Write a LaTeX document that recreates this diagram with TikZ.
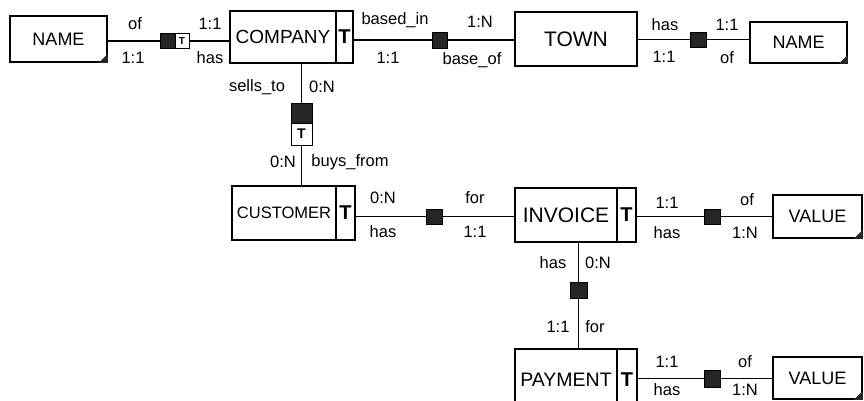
\documentclass[tikz,border=0pt]{standalone}
\usepackage{fontspec}
\setmainfont{Liberation Sans}
\begin{document}
\begin{tikzpicture}[x=1pt,y=-1pt,
  ent/.style={draw, line width=1.7pt, inner sep=0pt},
  tcell/.style={draw, line width=1.7pt, inner sep=0pt, font=\fontsize{20}{21}\selectfont\bfseries},
  lbl/.style={inner sep=0pt, font=\fontsize{16.5}{18}\selectfont},
  conn/.style={line width=1.2pt},
  rsq/.style={draw, fill=black!85, line width=0.8pt, inner sep=0pt},
  rtee/.style={draw, fill=white, line width=1pt, inner sep=0pt},
  ear/.style={fill=black!85}
]
\clip (0,0) rectangle (864,400);
\fill[white] (0,0) rectangle (864,400);

% entities
\node[ent, minimum width=97pt, minimum height=46pt, font=\fontsize{18}{20}\selectfont] (name1) at (58.5,39) {NAME};
\node[ent, minimum width=106pt, minimum height=52pt, font=\fontsize{19}{20}\selectfont] (company) at (283,37) {COMPANY};
\node[tcell, minimum width=17pt, minimum height=52pt] (companyT) at (344.5,37) {T};
\node[ent, minimum width=122pt, minimum height=54pt, font=\fontsize{21}{22}\selectfont] (town) at (576,39) {TOWN};
\node[ent, minimum width=97pt, minimum height=41pt, font=\fontsize{18}{20}\selectfont] (name2) at (798.5,42.5) {NAME};
\node[ent, minimum width=104pt, minimum height=54pt, font=\fontsize{16.5}{18}\selectfont] (customer) at (284,213) {CUSTOMER};
\node[tcell, minimum width=19pt, minimum height=54pt] (customerT) at (345.5,213) {T};
\node[ent, minimum width=102pt, minimum height=54pt, font=\fontsize{21}{22}\selectfont] (invoice) at (566,215) {INVOICE};
\node[tcell, minimum width=19pt, minimum height=54pt] (invoiceT) at (626.5,215) {T};
\node[ent, minimum width=89pt, minimum height=43pt, font=\fontsize{18}{20}\selectfont] (value1) at (817.5,216.5) {VALUE};
\node[ent, minimum width=102pt, minimum height=62pt, font=\fontsize{19.5}{21}\selectfont] (payment) at (566,380) {PAYMENT};
\node[tcell, minimum width=20pt, minimum height=62pt] (paymentT) at (627,380) {T};
\node[ent, minimum width=89pt, minimum height=42pt, font=\fontsize{18}{20}\selectfont] (value2) at (817.5,378) {VALUE};

% dog ears
\fill[ear] (name1.south east) -- ++(-9,0) -- ++(9,-9) -- cycle;
\fill[ear] (name2.south east) -- ++(-9,0) -- ++(9,-9) -- cycle;
\fill[ear] (value1.south east) -- ++(-9,0) -- ++(9,-9) -- cycle;
\fill[ear] (value2.south east) -- ++(-9,0) -- ++(9,-9) -- cycle;

% roles
\node[rsq, minimum width=15pt, minimum height=15pt] (r1a) at (167.5,41) {};
\node[rtee, minimum width=14pt, minimum height=15pt, font=\fontsize{10}{10}\selectfont\bfseries] (r1b) at (182,41) {T};
\node[rsq, minimum width=15pt, minimum height=16pt] (r2) at (439.5,40) {};
\node[rsq, minimum width=16pt, minimum height=15pt] (r4) at (698,39.5) {};
\node[rsq, minimum width=21pt, minimum height=20pt] (r3a) at (301.5,113) {};
\node[rtee, minimum width=21pt, minimum height=22pt, font=\fontsize{14}{14}\selectfont\bfseries] (r3b) at (301.5,134) {T};
\node[rsq, minimum width=16pt, minimum height=15pt] (r5) at (434,216.5) {};
\node[rsq, minimum width=16pt, minimum height=15pt] (r6) at (712,216.5) {};
\node[rsq, minimum width=17pt, minimum height=16pt] (r7) at (578.5,290) {};
\node[rsq, minimum width=16pt, minimum height=17pt] (r8) at (712,378.5) {};

% connectors
\draw[conn] (r1a.west) -- (r1a.west -| name1.east);
\draw[conn] (r1b.east) -- (r1b.east -| company.west);
\draw[conn] (r2.west) -- (r2.west -| companyT.east);
\draw[conn] (r2.east) -- (r2.east -| town.west);
\draw[conn] (r4.west) -- (r4.west -| town.east);
\draw[conn] (r4.east) -- (r4.east -| name2.west);
\draw[conn] (r3a.north) -- (r3a.north |- company.south);
\draw[conn] (r3b.south) -- (r3b.south |- customer.north);
\draw[conn] (r5.west) -- (r5.west -| customerT.east);
\draw[conn] (r5.east) -- (r5.east -| invoice.west);
\draw[conn] (r6.west) -- (r6.west -| invoiceT.east);
\draw[conn] (r6.east) -- (r6.east -| value1.west);
\draw[conn] (r7.north) -- (r7.north |- invoice.south);
\draw[conn] (r7.south) -- (r7.south |- payment.north);
\draw[conn] (r8.west) -- (r8.west -| paymentT.east);
\draw[conn] (r8.east) -- (r8.east -| value2.west);

% labels
\node[lbl] (l1) at (135,24) {of};
\node[lbl] (l2) at (133,58) {1:1};
\node[lbl] (l3) at (210,24) {1:1};
\node[lbl] (l4) at (210,58) {has};
\node[lbl] (l5) at (395,20) {based\_in};
\node[lbl] (l6) at (480,22) {1:N};
\node[lbl] (l7) at (388,58) {1:1};
\node[lbl] (l8) at (472,60) {base\_of};
\node[lbl] (l9) at (665,25) {has};
\node[lbl] (l10) at (664,57) {1:1};
\node[lbl] (l11) at (727,25) {1:1};
\node[lbl] (l12) at (727,58) {of};
\node[lbl] (l13) at (257,87) {sells\_to};
\node[lbl] (l14) at (322,87) {0:N};
\node[lbl] (l15) at (283,162) {0:N};
\node[lbl] (l16) at (350,162) {buys\_from};
\node[lbl] (l17) at (383,198) {0:N};
\node[lbl] (l18) at (383,232) {has};
\node[lbl] (l19) at (475,198) {for};
\node[lbl] (l20) at (475,232) {1:1};
\node[lbl] (l21) at (667,203) {1:1};
\node[lbl] (l22) at (667,233) {has};
\node[lbl] (l23) at (747,200) {of};
\node[lbl] (l24) at (745,233) {1:N};
\node[lbl] (l25) at (553,263) {has};
\node[lbl] (l26) at (598,263) {0:N};
\node[lbl] (l27) at (558,327) {1:1};
\node[lbl] (l28) at (595,327) {for};
\node[lbl] (l29) at (667,362) {1:1};
\node[lbl] (l30) at (667,390) {has};
\node[lbl] (l31) at (745,362) {of};
\node[lbl] (l32) at (745,390) {1:N};
\end{tikzpicture}
\end{document}
